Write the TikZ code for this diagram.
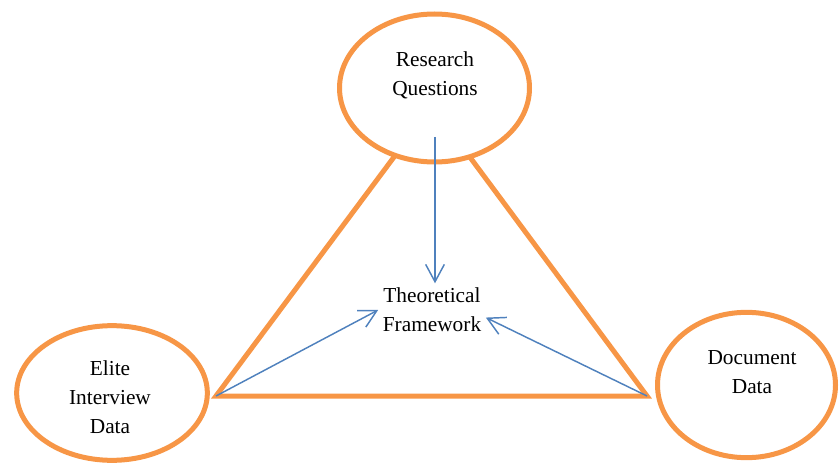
\documentclass[tikz,border=0pt]{standalone}
\usepackage{fontspec}
\setmainfont{Liberation Serif}
\usetikzlibrary{shapes.geometric,arrows.meta}
\definecolor{rimorange}{HTML}{F79646}
\definecolor{linkblue}{HTML}{4F81BD}
\tikzset{
 oval/.style={shape=ellipse,draw=rimorange,fill=white,line width=3.75pt},
 side/.style={draw=rimorange,line width=3.75pt},
 label text/.style={align=center,font=\fontsize{16}{21.75}\selectfont},
 link/.style={draw=linkblue,line width=1.1pt,-{Straight Barb[length=13pt,width=14pt]}}
}
\begin{document}
\begin{tikzpicture}[x=0.75pt,y=-0.75pt]
 \useasboundingbox (0,0) rectangle (839,463);
 \coordinate (apex) at (432,106);
 \coordinate (left) at (216,396);
 \coordinate (right) at (647,396);
 \draw[side] (apex) -- (left) -- (right) -- cycle;

 \node[oval,minimum width=142.5pt,minimum height=111pt] (rq) at (434.5,88) {};
 \node[oval,minimum width=143pt,minimum height=101pt] (eid) at (112,393) {};
 \node[oval,minimum width=133.5pt,minimum height=109pt] (dd) at (746.5,385) {};

 \node[label text] (rqtext) at (435,75) {Research\\Questions};
 \node[label text] (eidtext) at (110,397) {Elite\\Interview\\Data};
 \node[label text] (ddtext) at (752,372) {Document\\Data};
 \node[label text] (tf) at (432,310) {Theoretical\\Framework};

 \coordinate (rqfoot) at (435,137);
 \draw[link] (rqfoot) -- (rqfoot |- tf.north);
 \draw[link] (left) -- (tf.west);
 \draw[link] (right) -- (tf.-8);
\end{tikzpicture}
\end{document}
